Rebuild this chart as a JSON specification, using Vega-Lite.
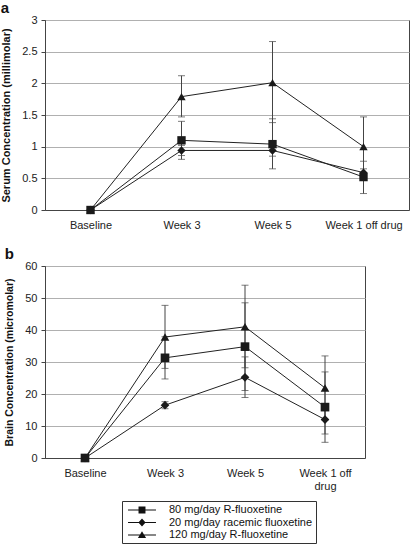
{
  "$schema": "https://vega.github.io/schema/vega-lite/v6.json",
  "padding": 0,
  "background": "white",
  "config": {
    "font": "Liberation Sans",
    "view": {"stroke": "#444", "strokeWidth": 1},
    "axis": {
      "labelFont": "Liberation Sans",
      "labelFontSize": 11,
      "labelColor": "#222",
      "titleFont": "Liberation Sans",
      "titleFontWeight": "bold",
      "titleColor": "#111",
      "domainColor": "#444",
      "tickColor": "#444",
      "gridColor": "#b0b0b0"
    },
    "title": {"font": "Liberation Sans", "fontWeight": "bold", "fontSize": 15, "anchor": "start", "color": "#111"}
  },
  "data": {
    "values": [
      {"panel": "a", "week": "Baseline", "series": "120 mg/day R-fluoxetine", "value": 0},
      {"panel": "a", "week": "Week 3", "series": "120 mg/day R-fluoxetine", "value": 1.79, "lo": 1.47, "hi": 2.12},
      {"panel": "a", "week": "Week 5", "series": "120 mg/day R-fluoxetine", "value": 2.01, "lo": 1.38, "hi": 2.66},
      {"panel": "a", "week": "Week 1 off drug", "series": "120 mg/day R-fluoxetine", "value": 1.0, "lo": 0.53, "hi": 1.47},
      {"panel": "a", "week": "Baseline", "series": "20 mg/day racemic fluoxetine", "value": 0},
      {"panel": "a", "week": "Week 3", "series": "20 mg/day racemic fluoxetine", "value": 0.94, "lo": 0.86, "hi": 1.02},
      {"panel": "a", "week": "Week 5", "series": "20 mg/day racemic fluoxetine", "value": 0.94, "lo": 0.85, "hi": 1.03},
      {"panel": "a", "week": "Week 1 off drug", "series": "20 mg/day racemic fluoxetine", "value": 0.59, "lo": 0.53, "hi": 0.65},
      {"panel": "a", "week": "Baseline", "series": "80 mg/day R-fluoxetine", "value": 0},
      {"panel": "a", "week": "Week 3", "series": "80 mg/day R-fluoxetine", "value": 1.1, "lo": 0.8, "hi": 1.4},
      {"panel": "a", "week": "Week 5", "series": "80 mg/day R-fluoxetine", "value": 1.04, "lo": 0.65, "hi": 1.44},
      {"panel": "a", "week": "Week 1 off drug", "series": "80 mg/day R-fluoxetine", "value": 0.52, "lo": 0.26, "hi": 0.77},
      {"panel": "b", "week": "Baseline", "series": "120 mg/day R-fluoxetine", "value": 0},
      {"panel": "b", "week": "Week 3", "series": "120 mg/day R-fluoxetine", "value": 37.8, "lo": 28.0, "hi": 47.7},
      {"panel": "b", "week": "Week 5", "series": "120 mg/day R-fluoxetine", "value": 41.0, "lo": 28.2, "hi": 54.0},
      {"panel": "b", "week": "Week 1 off drug", "series": "120 mg/day R-fluoxetine", "value": 21.9, "lo": 11.9, "hi": 31.9},
      {"panel": "b", "week": "Baseline", "series": "20 mg/day racemic fluoxetine", "value": 0},
      {"panel": "b", "week": "Week 3", "series": "20 mg/day racemic fluoxetine", "value": 16.5, "lo": 15.4, "hi": 17.6},
      {"panel": "b", "week": "Week 5", "series": "20 mg/day racemic fluoxetine", "value": 25.2, "lo": 18.9, "hi": 31.6},
      {"panel": "b", "week": "Week 1 off drug", "series": "20 mg/day racemic fluoxetine", "value": 12.0, "lo": 7.5, "hi": 16.5},
      {"panel": "b", "week": "Baseline", "series": "80 mg/day R-fluoxetine", "value": 0},
      {"panel": "b", "week": "Week 3", "series": "80 mg/day R-fluoxetine", "value": 31.3, "lo": 24.7, "hi": 37.9},
      {"panel": "b", "week": "Week 5", "series": "80 mg/day R-fluoxetine", "value": 34.8, "lo": 21.1, "hi": 48.5},
      {"panel": "b", "week": "Week 1 off drug", "series": "80 mg/day R-fluoxetine", "value": 15.9, "lo": 4.9, "hi": 26.9}
    ]
  },
  "spacing": 15,
  "resolve": {"scale": {"shape": "independent"}, "legend": {"shape": "independent"}},
  "vconcat": [
    {
      "title": {"text": "a", "offset": -2},
      "width": 364,
      "height": 190,
      "transform": [{"filter": "datum.panel == 'a'"}],
      "encoding": {
        "x": {
          "field": "week", "type": "ordinal",
          "sort": ["Baseline", "Week 3", "Week 5", "Week 1 off drug"],
          "scale": {"type": "point", "padding": 0.5},
          "axis": {"title": null, "labelAngle": 0, "ticks": false, "labelPadding": 9, "domain": true}
        }
      },
      "layer": [
        {
          "transform": [{"filter": "isValid(datum.lo)"}],
          "mark": {"type": "errorbar", "color": "#444", "thickness": 1, "ticks": {"size": 7, "thickness": 1, "color": "#444"}},
          "encoding": {
            "y": {"field": "lo", "type": "quantitative", "scale": {"domain": [0, 3]},
                  "axis": {"title": "Serum Concentration (millimolar)", "titleFontSize": 11, "values": [0, 0.5, 1, 1.5, 2, 2.5, 3], "format": "~g", "grid": true, "tickSize": 4, "labelPadding": 4, "titlePadding": 10}},
            "y2": {"field": "hi"}
          }
        },
        {
          "mark": {"type": "line", "color": "#222", "strokeWidth": 1},
          "encoding": {
            "y": {"field": "value", "type": "quantitative", "scale": {"domain": [0, 3]},
                  "axis": {"title": "Serum Concentration (millimolar)", "titleFontSize": 11, "values": [0, 0.5, 1, 1.5, 2, 2.5, 3], "format": "~g", "grid": true, "tickSize": 4, "labelPadding": 4, "titlePadding": 10}},
            "detail": {"field": "series"}
          }
        },
        {
          "mark": {"type": "point", "filled": true, "opacity": 1, "color": "#1a1a1a", "size": 70},
          "encoding": {
            "y": {"field": "value", "type": "quantitative", "scale": {"domain": [0, 3]},
                  "axis": {"title": "Serum Concentration (millimolar)", "titleFontSize": 11, "values": [0, 0.5, 1, 1.5, 2, 2.5, 3], "format": "~g", "grid": true, "tickSize": 4, "labelPadding": 4, "titlePadding": 10}},
            "shape": {
              "field": "series", "type": "nominal",
              "scale": {"domain": ["80 mg/day R-fluoxetine", "20 mg/day racemic fluoxetine", "120 mg/day R-fluoxetine"], "range": ["square", "diamond", "triangle-up"]},
              "legend": null
            }
          }
        }
      ]
    },
    {
      "title": {"text": "b", "offset": -2},
      "width": 320,
      "height": 192,
      "transform": [{"filter": "datum.panel == 'b'"}],
      "encoding": {
        "x": {
          "field": "week", "type": "ordinal",
          "sort": ["Baseline", "Week 3", "Week 5", "Week 1 off drug"],
          "scale": {"type": "point", "padding": 0.5},
          "axis": {"title": null, "labelAngle": 0, "ticks": false, "labelPadding": 9, "domain": true,
                   "labelExpr": "datum.value == 'Week 1 off drug' ? ['Week 1 off', 'drug'] : datum.value"}
        }
      },
      "resolve": {"scale": {"shape": "independent"}, "legend": {"shape": "independent"}},
      "layer": [
        {
          "transform": [{"filter": "isValid(datum.lo)"}],
          "mark": {"type": "errorbar", "color": "#444", "thickness": 1, "ticks": {"size": 7, "thickness": 1, "color": "#444"}},
          "encoding": {
            "y": {"field": "lo", "type": "quantitative", "scale": {"domain": [0, 60]},
                  "axis": {"title": "Brain Concentration (micromolar)", "titleFontSize": 10.5, "values": [0, 10, 20, 30, 40, 50, 60], "grid": true, "tickSize": 4, "labelPadding": 4, "titlePadding": 10}},
            "y2": {"field": "hi"}
          }
        },
        {
          "mark": {"type": "line", "color": "#222", "strokeWidth": 1},
          "encoding": {
            "y": {"field": "value", "type": "quantitative", "scale": {"domain": [0, 60]},
                  "axis": {"title": "Brain Concentration (micromolar)", "titleFontSize": 10.5, "values": [0, 10, 20, 30, 40, 50, 60], "grid": true, "tickSize": 4, "labelPadding": 4, "titlePadding": 10}},
            "detail": {"field": "series"}
          }
        },
        {
          "mark": {"type": "point", "filled": true, "opacity": 1, "color": "#1a1a1a", "size": 75},
          "encoding": {
            "y": {"field": "value", "type": "quantitative", "scale": {"domain": [0, 60]},
                  "axis": {"title": "Brain Concentration (micromolar)", "titleFontSize": 10.5, "values": [0, 10, 20, 30, 40, 50, 60], "grid": true, "tickSize": 4, "labelPadding": 4, "titlePadding": 10}},
            "shape": {
              "field": "series", "type": "nominal",
              "scale": {"domain": ["80 mg/day R-fluoxetine", "20 mg/day racemic fluoxetine", "120 mg/day R-fluoxetine"], "range": ["square", "diamond", "triangle-up"]},
              "legend": null
            }
          }
        },
        {
          "transform": [{"filter": "datum.week == 'Baseline'"}],
          "mark": {"type": "point", "filled": true, "opacity": 0, "color": "#111", "size": 144},
          "encoding": {
            "y": {"field": "value", "type": "quantitative", "scale": {"domain": [0, 60]},
                  "axis": {"title": "Brain Concentration (micromolar)", "titleFontSize": 10.5, "values": [0, 10, 20, 30, 40, 50, 60], "grid": true, "tickSize": 4, "labelPadding": 4, "titlePadding": 10}},
            "shape": {
              "field": "series", "type": "nominal",
              "scale": {
                "domain": ["80 mg/day R-fluoxetine", "20 mg/day racemic fluoxetine", "120 mg/day R-fluoxetine"],
                "range": [
                  "M-2.33,-0.085H2.33V0.085H-2.33Z M-0.58,-0.58H0.58V0.58H-0.58Z",
                  "M-2.33,-0.085H2.33V0.085H-2.33Z M0,-0.67L0.6,0L0,0.67L-0.6,0Z",
                  "M-2.33,-0.085H2.33V0.085H-2.33Z M0,-0.63L0.68,0.5L-0.68,0.5Z"
                ]
              },
              "legend": {
                "title": null,
                "orient": "none",
                "legendX": 77,
                "legendY": 235,
                "direction": "vertical",
                "strokeColor": "#333",
                "padding": 3,
                "labelFont": "Liberation Sans",
                "labelFontSize": 11,
                "labelColor": "#111",
                "symbolOffset": 11,
                "labelOffset": 21,
                "rowPadding": 1.5,
                "symbolSize": 144,
                "symbolOpacity": 1,
                "symbolFillColor": "#111",
                "symbolStrokeWidth": 0
              }
            }
          }
        }
      ]
    }
  ]
}
